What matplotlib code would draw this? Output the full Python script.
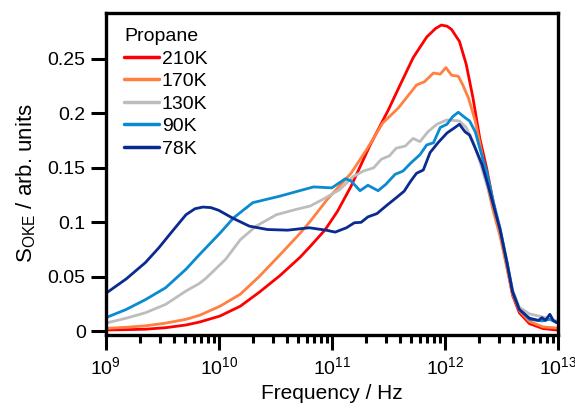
import matplotlib
matplotlib.use("Agg")
import matplotlib.pyplot as plt
import numpy as np
from matplotlib.ticker import LogLocator, NullFormatter

# ---- data (log10 of frequency in Hz, S_OKE in arb. units) ----
logf_210 = [9.0, 9.18, 9.35, 9.53, 9.71, 9.83, 10.01, 10.19, 10.36, 10.54, 10.72, 10.81, 10.94, 11.05,
            11.17, 11.34, 11.50, 11.60, 11.72, 11.84, 11.92, 11.97, 12.02, 12.06, 12.13, 12.19, 12.25,
            12.31, 12.37, 12.43, 12.49, 12.55, 12.60, 12.66, 12.75, 12.87, 12.99]
s_210 = [0.0012, 0.0015, 0.0019, 0.0033, 0.0058, 0.0085, 0.014, 0.023, 0.036, 0.051, 0.068, 0.078,
         0.093, 0.110, 0.133, 0.171, 0.203, 0.225, 0.251, 0.270, 0.278, 0.281, 0.280, 0.277, 0.266,
         0.245, 0.214, 0.177, 0.150, 0.118, 0.090, 0.060, 0.033, 0.017, 0.007, 0.0025, 0.0012]

logf_170 = [9.0, 9.18, 9.35, 9.53, 9.71, 9.83, 10.01, 10.19, 10.36, 10.54, 10.72, 10.81, 10.96, 11.17,
            11.31, 11.45, 11.59, 11.75, 11.82, 11.90, 11.96, 12.01, 12.06, 12.12, 12.16, 12.21, 12.27,
            12.33, 12.38, 12.43, 12.49, 12.55, 12.60, 12.66, 12.75, 12.87, 12.99]
s_170 = [0.0027, 0.0037, 0.005, 0.0075, 0.011, 0.0147, 0.023, 0.034, 0.0505, 0.070, 0.090, 0.101,
         0.121, 0.145, 0.167, 0.191, 0.205, 0.226, 0.229, 0.237, 0.236, 0.242, 0.235, 0.234, 0.226,
         0.214, 0.193, 0.162, 0.132, 0.110, 0.087, 0.058, 0.034, 0.019, 0.009, 0.004, 0.003]

logf_130 = [9.0, 9.18, 9.35, 9.53, 9.71, 9.83, 9.89, 10.01, 10.06, 10.19, 10.33, 10.51, 10.69, 10.81,
            10.92, 11.07, 11.19, 11.28, 11.37, 11.44, 11.51, 11.57, 11.65, 11.72, 11.78, 11.85, 11.93,
            12.02, 12.13, 12.19, 12.25, 12.31, 12.37, 12.43, 12.49, 12.55, 12.60, 12.66, 12.75, 12.87,
            12.99]
s_130 = [0.0075, 0.012, 0.017, 0.0247, 0.037, 0.044, 0.049, 0.061, 0.066, 0.084, 0.0965, 0.107,
         0.112, 0.115, 0.121, 0.130, 0.142, 0.147, 0.150, 0.158, 0.161, 0.168, 0.170, 0.177, 0.174,
         0.183, 0.190, 0.194, 0.193, 0.187, 0.174, 0.156, 0.135, 0.117, 0.094, 0.064, 0.038, 0.022,
         0.016, 0.013, 0.0095]

logf_90 = [9.0, 9.18, 9.35, 9.53, 9.71, 9.83, 9.89, 10.01, 10.13, 10.30, 10.54, 10.75, 10.84, 11.0,
           11.12, 11.17, 11.25, 11.32, 11.41, 11.48, 11.56, 11.63, 11.70, 11.78, 11.84, 11.90, 11.96,
           12.02, 12.07, 12.12, 12.18, 12.22, 12.27, 12.31, 12.37, 12.43, 12.49, 12.55, 12.60, 12.66,
           12.75, 12.86, 12.93, 12.99]
s_90 = [0.0125, 0.020, 0.029, 0.040, 0.057, 0.0705, 0.077, 0.090, 0.104, 0.118, 0.124, 0.130,
        0.1325, 0.1316, 0.140, 0.138, 0.129, 0.134, 0.129, 0.135, 0.144, 0.147, 0.1545, 0.162, 0.171,
        0.173, 0.187, 0.190, 0.197, 0.201, 0.196, 0.193, 0.183, 0.168, 0.147, 0.119, 0.094, 0.064,
        0.037, 0.020, 0.011, 0.0095, 0.011, 0.008]

logf_78 = [9.0, 9.18, 9.35, 9.47, 9.59, 9.71, 9.79, 9.86, 9.93, 10.0, 10.12, 10.27, 10.43, 10.61,
           10.80, 10.95, 11.03, 11.13, 11.20, 11.26, 11.32, 11.40, 11.48, 11.57, 11.64, 11.70, 11.75,
           11.81, 11.87, 11.94, 12.02, 12.09, 12.13, 12.18, 12.22, 12.27, 12.33, 12.38, 12.43, 12.49,
           12.55, 12.60, 12.66, 12.75, 12.83, 12.86, 12.89, 12.93, 12.96, 12.99]
s_78 = [0.0348, 0.048, 0.063, 0.0767, 0.092, 0.107, 0.1125, 0.114, 0.1135, 0.111, 0.104, 0.0965,
        0.0934, 0.0928, 0.095, 0.0928, 0.091, 0.095, 0.0996, 0.100, 0.105, 0.108, 0.115, 0.1225,
        0.1285, 0.138, 0.145, 0.148, 0.164, 0.173, 0.182, 0.187, 0.190, 0.183, 0.180, 0.168, 0.153,
        0.135, 0.116, 0.093, 0.063, 0.036, 0.020, 0.012, 0.010, 0.0125, 0.010, 0.0156, 0.010, 0.008]

labels = ["210K", "170K", "130K", "90K", "78K"]
colors = ["#ff0000", "#ff8040", "#bdbdbd", "#0a8ad0", "#0a2a90"]
series = [(logf_210, s_210), (logf_170, s_170), (logf_130, s_130), (logf_90, s_90), (logf_78, s_78)]

yticks = [0, 0.05, 0.1, 0.15, 0.2, 0.25]
ytick_labels = ["0", "0.05", "0.1", "0.15", "0.2", "0.25"]

plt.rcParams["font.family"] = ["Liberation Sans", "DejaVu Sans"]
plt.rcParams["mathtext.default"] = "regular"

fig = plt.figure(figsize=(5.75, 4.09), dpi=100)
ax = fig.add_axes([0.184, 0.182, 0.786, 0.786])

for (lf, s), lab, c in zip(series, labels, colors):
    ax.plot(10 ** np.array(lf), s, color=c, lw=2.0, label=lab,
            solid_joinstyle="round", solid_capstyle="round")

ax.set_xscale("log")
ax.set_xlim(1e9, 1e13)
ax.set_ylim(-0.003, 0.292)
ax.set_yticks(yticks)
ax.set_yticklabels(ytick_labels)
ax.xaxis.set_major_locator(LogLocator(base=10, numticks=10))
ax.xaxis.set_minor_locator(LogLocator(base=10, subs=np.arange(2, 10), numticks=10))
ax.xaxis.set_minor_formatter(NullFormatter())

for sp in ax.spines.values():
    sp.set_linewidth(2.4)

ax.tick_params(axis="both", which="major", direction="out", length=10.5, width=2.2,
               labelsize=14, top=False, right=False)
ax.tick_params(axis="x", which="minor", direction="out", length=5.5, width=2.2, top=False)
ax.tick_params(axis="y", which="major", pad=4)
ax.tick_params(axis="x", which="major", pad=5)

ax.set_xlabel("Frequency / Hz", fontsize=15, labelpad=4)
ax.set_ylabel("S$_{OKE}$ / arb. units", fontsize=16, labelpad=6)
ax.yaxis.set_label_coords(-0.15, 0.47)

leg = ax.legend(title="Propane", loc="upper left", frameon=False, fontsize=14,
                title_fontsize=14, handlelength=1.8, handletextpad=0.15, labelspacing=0.25,
                borderaxespad=0.3, bbox_to_anchor=(0.01, 0.995))
leg._legend_box.align = "left"
for line in leg.get_lines():
    line.set_linewidth(2.5)

fig.savefig("out.png", dpi=100)
